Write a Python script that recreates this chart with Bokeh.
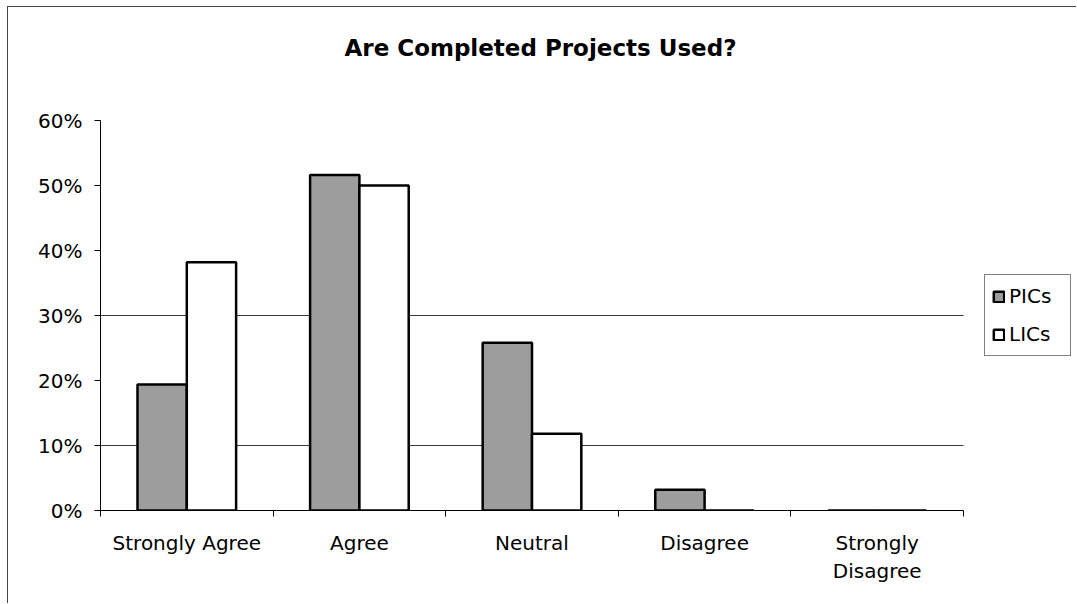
import numpy as np
from bokeh.plotting import figure
from bokeh.models import (ColumnDataSource, FixedTicker, NumeralTickFormatter,
                          Legend, LegendItem, Range1d, Title)
from bokeh.embed import file_html
from bokeh.resources import INLINE

# Survey answers, share of respondents per group
categories = ["Strongly Agree", "Agree", "Neutral", "Disagree", "Strongly Disagree"]
category_labels = ["Strongly Agree", "Agree", "Neutral", "Disagree", "Strongly\nDisagree"]
pics = [0.194, 0.516, 0.258, 0.032, 0.0]
lics = [0.382, 0.500, 0.118, 0.0, 0.0]
y_ticks = [0.0, 0.1, 0.2, 0.3, 0.4, 0.5, 0.6]
grid_ticks = [0.1, 0.3]

FONT = "DejaVu Sans"
n = len(categories)
idx = np.arange(n)
bar_w = 1 / 3.5  # two bars plus a 150% gap per category
centers = idx + 0.5

# the plot area runs to the right edge so the legend can sit beside the axes;
# the category axis itself only covers AXIS_PX of the FRAME_PX wide area
FRAME_PX, AXIS_PX = 977, 863
x_end = n * FRAME_PX / AXIS_PX

src_p = ColumnDataSource(dict(x=centers - bar_w / 2, top=pics))
src_l = ColumnDataSource(dict(x=centers + bar_w / 2, top=lics))
src_g = ColumnDataSource(dict(x0=[0] * len(grid_ticks), x1=[n] * len(grid_ticks),
                              y=grid_ticks))

p = figure(width=1069, height=597, output_backend="svg", toolbar_location=None,
           x_range=Range1d(0, x_end), y_range=Range1d(0, 0.6),
           min_border_left=92, min_border_top=113, min_border_right=0,
           min_border_bottom=94,
           title="Are Completed Projects Used?")
p.styles = {"margin-left": "7px", "margin-top": "6px",
            "border-left": "1px solid #444", "border-top": "1px solid #444"}

p.title.text_font = FONT
p.title.text_font_size = "23px"
p.title.text_font_style = "bold"
p.title.text_color = "black"
p.title.align = "left"
p.title.offset = 244
p.title.standoff = 10

# blank spacer between the title and the plot area
p.add_layout(Title(text=" ", standoff=52, text_font_size="1px"), "above")

p.outline_line_color = None
p.background_fill_color = "white"
p.border_fill_color = "white"
p.xgrid.grid_line_color = None
p.ygrid.grid_line_color = None

# horizontal grid lines limited to the category axis
p.segment(x0="x0", x1="x1", y0="y", y1="y", source=src_g,
          line_color="#3a3a3a", line_width=1)

r_p = p.vbar(x="x", top="top", width=bar_w, source=src_p,
             fill_color="#9d9d9d", line_color="black", line_width=2.5)
r_l = p.vbar(x="x", top="top", width=bar_w, source=src_l,
             fill_color="white", line_color="black", line_width=2.5)

# y axis
p.yaxis.ticker = FixedTicker(ticks=y_ticks)
p.yaxis.formatter = NumeralTickFormatter(format="0%")
p.yaxis.major_label_text_font = FONT
p.yaxis.major_label_text_font_size = "20px"
p.yaxis.major_label_text_color = "black"
p.yaxis.major_tick_out = 6
p.yaxis.major_tick_in = 0
p.yaxis.major_label_standoff = 12
p.yaxis.axis_line_color = "black"
p.yaxis.major_tick_line_color = "black"
p.yaxis.minor_tick_line_color = None

# x axis: labels at category centres, tick marks between categories
p.xaxis.bounds = (0, n)
p.xaxis.ticker = FixedTicker(ticks=list(centers), minor_ticks=list(range(n + 1)))
p.xaxis.major_label_overrides = {float(c): lab for c, lab in zip(centers, category_labels)}
p.xaxis.major_label_text_font = FONT
p.xaxis.major_label_text_font_size = "20px"
p.xaxis.major_label_text_color = "black"
p.xaxis.major_tick_line_color = None
p.xaxis.major_tick_out = 0
p.xaxis.major_tick_in = 0
p.xaxis.major_label_standoff = 14
p.xaxis.minor_tick_line_color = "black"
p.xaxis.minor_tick_out = 6
p.xaxis.minor_tick_in = 0
p.xaxis.axis_line_color = "black"

legend = Legend(items=[LegendItem(label="PICs", renderers=[r_p]),
                       LegendItem(label="LICs", renderers=[r_l])],
                location=(884, 154))
legend.label_text_font = FONT
legend.label_text_font_size = "20px"
legend.label_text_color = "black"
legend.label_height = 28
legend.label_width = 54
legend.glyph_width = 13
legend.glyph_height = 13
legend.label_standoff = 4
legend.spacing = 10
legend.padding = 7
legend.margin = 0
legend.border_line_color = "black"
legend.border_line_width = 1
legend.background_fill_color = "white"
p.add_layout(legend)

open("out.html", "w").write(file_html(p, INLINE))
